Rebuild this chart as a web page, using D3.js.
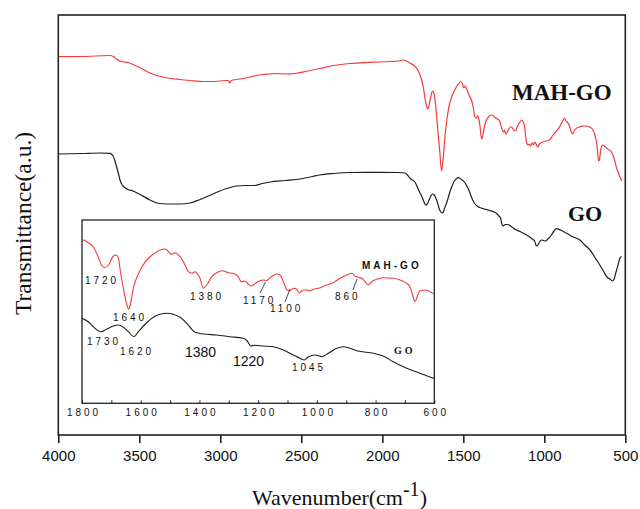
<!DOCTYPE html>
<html>
<head>
<meta charset="utf-8">
<script src="https://cdn.jsdelivr.net/npm/d3@7"></script>
<style>
  html, body { margin: 0; padding: 0; background: #fff; }
  svg { display: block; }
</style>
</head>
<body>
<svg id="chart" width="640" height="509"></svg>
<script>
// FTIR spectra of GO and MAH-GO: [wavenumber (cm-1), transmittance (a.u.)]
const mahgoSpectrum = [
  [4000,378.3],[3850,378.5],[3681,379.5],[3660,378.5],[3638,375.5],[3610,373.5],[3588,373],[3560,372],
  [3539,370.5],[3480,366],[3434,362],[3380,359],[3341,357.5],[3250,355.5],[3187,354.5],[3100,353.5],
  [3064,353.5],[3000,354],[2971,354.5],[2950,354.5],[2941,352],[2932,354.5],[2900,355.5],[2860,356.5],
  [2817,358],[2780,359.5],[2740,360.5],[2700,361],[2663,361.5],[2600,361],[2540,361.5],[2460,364],
  [2386,366.5],[2300,369.5],[2200,371.5],[2100,372.5],[2015,373],[1950,373.5],[1900,374],[1873,375],
  [1850,374],[1830,372],[1800,369],[1781,365],[1770,361],[1757,355],[1745,346],[1738,338],[1728,330],
  [1720,326],[1712,329],[1701,338],[1690,344],[1680,341],[1671,330],[1660,310],[1646,285],[1634,264],
  [1625,275],[1615,295],[1600,317],[1585,331],[1570,339],[1553,345],[1535,350],[1516,353.5],[1505,351],
  [1497,347],[1488,349],[1479,346],[1465,340],[1448,334],[1438,327],[1430,319],[1424,317],[1418,317],
  [1412,319],[1406,317],[1398,310],[1387,296],[1380,299],[1370,308],[1362,313],[1345,318],[1325,320],
  [1300,317],[1276,314],[1265,308],[1257,304],[1250,303],[1245,305],[1239,301],[1225,304],[1210,308],
  [1202,308],[1190,305],[1177,304],[1165,309],[1150,313],[1140,315],[1130,313],[1122,309],[1115,299],
  [1110,293],[1100,290],[1092,291],[1085,289],[1075,292],[1067,290],[1060,293],[1050,291],[1042,288],
  [1030,291],[1011,293],[990,294],[968,295],[950,299],[930,303],[906,308],[890,313],[875,317],[866,314],
  [858,313],[845,309],[835,304],[825,301],[815,304],[800,307],[783,308],[760,309],[740,309],[721,308],
  [700,305],[690,301],[680,295],[672,285],[665,274],[660,275],[652,285],[641,290],[630,289],[616,287],
  [600,285],[585,283],[570,277],[554,267],[540,261],[523,254]
];

const goSpectrum = [
  [4000,281],[3850,281.5],[3743,282],[3681,281.7],[3662,279],[3650,274],[3638,267],[3625,259],[3619,255],
  [3605,250],[3594,248],[3570,245.5],[3539,244],[3500,241],[3434,235],[3400,232.5],[3372,231.5],[3300,231],
  [3248,231],[3187,232],[3125,235.5],[3032,242],[2960,246.5],[2900,249],[2850,249.5],[2786,249.5],
  [2740,251.5],[2693,253],[2600,254.5],[2507,256],[2430,258.5],[2386,260],[2300,261.5],[2200,262.5],
  [2100,262.7],[2015,262.7],[1900,262.5],[1860,262],[1845,260],[1830,257],[1815,255],[1799,253],[1781,247],
  [1770,243],[1757,239],[1745,234],[1732,230],[1722,231],[1714,234],[1700,239],[1690,241],[1680,240],
  [1665,235],[1655,230],[1646,225],[1627,222],[1615,227],[1597,235],[1585,242],[1572,248],[1555,254],
  [1541,256.5],[1530,257.3],[1515,256],[1491,252.5],[1475,248],[1460,242.5],[1445,236],[1430,231.5],
  [1415,229],[1399,227.5],[1370,226],[1337,224.5],[1310,223],[1294,221.5],[1280,219],[1270,217],[1262,211],
  [1255,209],[1240,210.5],[1227,210.5],[1200,208],[1184,206],[1150,203.5],[1122,201],[1090,198],[1070,195.5],
  [1060,194],[1048,189],[1040,190],[1030,193],[1017,195],[1005,194.5],[993,194],[975,196.5],[956,200],
  [940,204],[925,206.3],[900,205],[862,201.7],[820,198],[780,195],[750,190],[718,185],[681,176],[650,168],
  [632,163],[610,157.5],[595,156],[585,154.5],[579,154],[572,155],[565,158],[557,163],[545,170],[533,177],
  [524,178.5]
];

// Enlarged fingerprint region (1800-600 cm-1)
const mahgoDetail = [
  [1800,164],[1779,160.6],[1762,156.6],[1745,146.6],[1734,138.3],[1723,135.6],[1710,138.3],[1693,147.3],
  [1684,148.3],[1676,145],[1670,133.3],[1658,113.3],[1647,98.3],[1641,94],[1636,98.3],[1624,116.6],
  [1607,130],[1584,141.6],[1561,148.3],[1534,153.3],[1517,154.3],[1505,151.6],[1497,149],[1483,150.6],
  [1466,146.6],[1449,138.3],[1438,131.6],[1426,130],[1415,131.6],[1407,129.3],[1398,125],[1387,115],
  [1375,118.3],[1358,126.6],[1341,130.6],[1322,132.6],[1301,130.6],[1285,130],[1268,126.6],[1257,121.6],
  [1245,122.3],[1234,119.3],[1223,117.3],[1217,118.3],[1203,121.3],[1183,123.3],[1172,122.6],[1155,126.6],
  [1137,129.3],[1126,128.3],[1114,121.6],[1102,113.3],[1091,112.6],[1080,115],[1069,114],[1060,110.6],
  [1046,113.3],[1035,113.3],[1023,112.6],[1012,114],[995,115],[967,118.3],[944,120.6],[921,125],[898,128.3],
  [881,130],[870,127.3],[859,126],[847,125],[836,121.6],[825,118.3],[813,121.6],[796,124],[774,125.6],
  [740,125],[717,123.3],[694,120],[683,116.6],[674,108.3],[666,101.6],[658,106.6],[649,112.6],[632,113.3],
  [615,111.6],[601,109.3]
];

const goDetail = [
  [1800,85],[1779,81.6],[1762,76.6],[1745,72.6],[1734,71.6],[1717,74],[1693,77.3],[1676,78.3],[1659,76],
  [1642,71.6],[1623,66.6],[1608,71.6],[1584,79.3],[1557,86],[1534,89],[1511,90],[1489,89],[1466,86],
  [1443,80],[1426,74],[1415,71],[1387,69.3],[1341,68.3],[1296,66.6],[1251,65],[1237,62.3],[1225,57.3],
  [1211,58],[1183,57.3],[1149,56.6],[1114,53.3],[1080,48.3],[1057,45],[1043,43.3],[1028,46.6],[1006,48.3],
  [983,46.6],[961,50],[932,55],[910,56.6],[887,55],[864,52.6],[807,50],[774,47.3],[740,41.6],[694,35],
  [649,30],[601,24.8]
];

const mainTicks = [4000, 3500, 3000, 2500, 2000, 1500, 1000, 500];
const insetTicks = [1800, 1700, 1600, 1500, 1400, 1300, 1200, 1100, 1000, 900, 800, 700, 600];
const insetTickLabels = [1800, 1600, 1400, 1200, 1000, 800, 600];

// Peak assignments in the enlarged region: [label, wavenumber of leader end or null]
const mahgoPeaks = ["1720", "1640", "1380", "1170", "1100", "860"];
const goPeaks = ["1730", "1620", "1380", "1220", "1045"];

const RED = "#f23b3b";
const BLACK = "#1e1e1e";

const svg = d3.select("#chart");

// ---------- main panel ----------
const x = d3.scaleLinear().domain([4000, 500]).range([58.3, 625.3]);
const y = d3.scaleLinear().domain([0, 420]).range([435, 15]);

const line = (xs, ys) => d3.line()
  .x(d => xs(d[0])).y(d => ys(d[1]))
  .curve(d3.curveMonotoneX);

svg.append("path").datum(mahgoSpectrum)
  .attr("d", line(x, y)).attr("fill", "none")
  .attr("stroke", RED).attr("stroke-width", 1.2);
svg.append("path").datum(goSpectrum)
  .attr("d", line(x, y)).attr("fill", "none")
  .attr("stroke", BLACK).attr("stroke-width", 1.2);

svg.append("rect")
  .attr("x", x(4000)).attr("y", y(420))
  .attr("width", x(500) - x(4000)).attr("height", y(0) - y(420))
  .attr("fill", "none").attr("stroke", "#222").attr("stroke-width", 1.6);

const xAxis = svg.append("g")
  .attr("transform", `translate(0,${y(0)})`)
  .call(d3.axisBottom(x).tickValues(mainTicks).tickSize(8).tickSizeOuter(0).tickPadding(7)
    .tickFormat(d3.format("d")));
xAxis.select(".domain").remove();
xAxis.selectAll(".tick line").attr("stroke", "#222").attr("stroke-width", 1.6);
xAxis.selectAll("text")
  .attr("font-family", "Arial, 'Liberation Sans', sans-serif")
  .attr("font-size", 15).attr("fill", "#111");

// axis titles
const xt = svg.append("text")
  .attr("x", 252).attr("y", 505)
  .attr("font-family", "'Times New Roman', 'Liberation Serif', serif")
  .attr("font-size", 22).attr("fill", "#111");
xt.append("tspan").text("Wavenumber(cm");
xt.append("tspan").attr("dy", -9).attr("font-size", 20).text("-1");
xt.append("tspan").attr("dy", 9).text(")");

svg.append("text")
  .attr("transform", "translate(31,223.5) rotate(-90)")
  .attr("text-anchor", "middle")
  .attr("font-family", "'Times New Roman', 'Liberation Serif', serif")
  .attr("font-size", 23.5).attr("fill", "#111")
  .text("Transmittance(a.u.)");

// series labels
svg.append("text").attr("x", 512).attr("y", 100)
  .attr("font-family", "'Times New Roman', 'Liberation Serif', serif")
  .attr("font-weight", "bold").attr("font-size", 23).attr("fill", "#111")
  .text("MAH-GO");
svg.append("text").attr("x", 568).attr("y", 220.5)
  .attr("font-family", "'Times New Roman', 'Liberation Serif', serif")
  .attr("font-weight", "bold").attr("font-size", 22).attr("fill", "#111")
  .text("GO");

// ---------- inset: 1800-600 cm-1 ----------
const xi = d3.scaleLinear().domain([1800, 600]).range([82, 434.3]);
const yi = d3.scaleLinear().domain([0, 183.3]).range([403.3, 220]);

svg.append("rect")
  .attr("x", xi(1800)).attr("y", yi(183.3))
  .attr("width", xi(600) - xi(1800)).attr("height", yi(0) - yi(183.3))
  .attr("fill", "#fff").attr("stroke", "#222").attr("stroke-width", 1.3);

svg.append("path").datum(mahgoDetail)
  .attr("d", line(xi, yi)).attr("fill", "none")
  .attr("stroke", RED).attr("stroke-width", 1.1);
svg.append("path").datum(goDetail)
  .attr("d", line(xi, yi)).attr("fill", "none")
  .attr("stroke", BLACK).attr("stroke-width", 1.1);

const xiAxis = svg.append("g")
  .attr("transform", `translate(0,${yi(0)})`)
  .call(d3.axisBottom(xi).tickValues(insetTicks).tickSizeInner(-3).tickSizeOuter(0).tickPadding(6)
    .tickFormat(d => insetTickLabels.includes(d) ? d : ""));
xiAxis.select(".domain").remove();
xiAxis.selectAll(".tick line").attr("stroke", "#222");
xiAxis.selectAll("text")
  .attr("font-family", "Arial, 'Liberation Sans', sans-serif")
  .attr("font-size", 10).attr("letter-spacing", "3px").attr("fill", "#111")
  .attr("dx", "1.5px");

const small = { "font-family": "Arial, 'Liberation Sans', sans-serif", "font-size": 10, "letter-spacing": "2.9px" };
const big = { "font-family": "Arial, 'Liberation Sans', sans-serif", "font-size": 14 };
function label(txt, lx, ly, style) {
  const t = svg.append("text").attr("x", lx).attr("y", ly).attr("fill", "#111").text(txt);
  Object.entries(style).forEach(([k, v]) => t.attr(k, v));
  return t;
}

// MAH-GO peaks
label(mahgoPeaks[0], 85, 284, small);
label(mahgoPeaks[1], 113, 321, small);
label(mahgoPeaks[2], 190, 300, small);
label(mahgoPeaks[3], 243, 304, small);
label(mahgoPeaks[4], 270, 312, small);
label(mahgoPeaks[5], 335, 300, small);

// GO peaks
label(goPeaks[0], 87, 345, small);
label(goPeaks[1], 120, 355, small);
label(goPeaks[2], 185, 357, big);
label(goPeaks[3], 233, 366, big);
label(goPeaks[4], 292, 371, small);

// leader lines from labels to the MAH-GO trace
const leaders = [[260, 293, 265.5, 282], [285, 302, 290, 289], [353, 290, 357, 279]];
svg.append("g").selectAll("line").data(leaders).join("line")
  .attr("x1", d => d[0]).attr("y1", d => d[1]).attr("x2", d => d[2]).attr("y2", d => d[3])
  .attr("stroke", "#333").attr("stroke-width", 0.9);

// inset series labels
label("MAH-GO", 362, 269, { "font-family": "Arial, 'Liberation Sans', sans-serif",
  "font-size": 10, "font-weight": "bold", "letter-spacing": "3px" });
label("GO", 394, 354, { "font-family": "'Times New Roman', 'Liberation Serif', serif",
  "font-size": 10, "font-weight": "bold", "letter-spacing": "3px" });
</script>
</body>
</html>
